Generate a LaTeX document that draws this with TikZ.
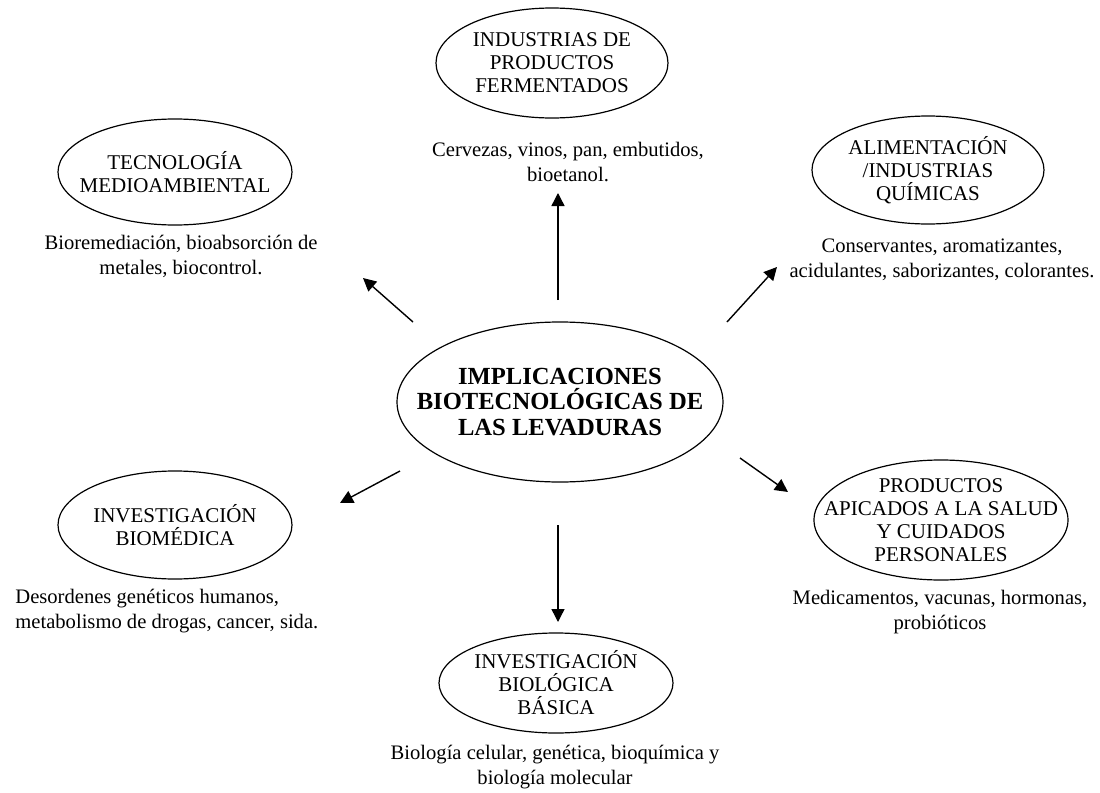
\documentclass[tikz,border=0pt]{standalone}
\usepackage{fontspec}
\setmainfont{Liberation Serif}
\usetikzlibrary{positioning,arrows.meta,shapes.geometric}

\begin{document}
\begin{tikzpicture}[
    x=0.5pt, y=-0.5pt,
    area/.style    = {draw, ellipse, line width=0.6pt, inner xsep=-22pt, inner ysep=-6pt,
                      align=center, font=\fontsize{10.5}{11.5}\selectfont},
    core/.style    = {draw, ellipse, line width=0.6pt, inner xsep=-25pt, inner ysep=-6pt,
                      align=center, minimum width=163pt, minimum height=80pt,
                      font=\fontsize{12.3}{12.8}\selectfont\bfseries},
    note/.style    = {align=center, inner sep=0pt, font=\fontsize{10.3}{12.5}\selectfont},
    arr/.style     = {-{Triangle[length=6.5pt,width=6.5pt]}, line width=0.7pt},
]
\useasboundingbox (0,0) rectangle (1100,793);

% --- central idea ---
\node[core] (yeast) at (560,402)
    {IMPLICACIONES\\BIOTECNOLÓGICAS DE\\LAS LEVADURAS};

% --- application areas ---
\node[area, minimum width=116pt, minimum height=55pt] (ferm) at (552,63)
    {INDUSTRIAS DE\\PRODUCTOS\\FERMENTADOS};
\node[area, minimum width=116pt, minimum height=54pt] (food) at (928,170)
    {ALIMENTACIÓN\\/INDUSTRIAS\\QUÍMICAS};
\node[area, minimum width=117pt, minimum height=53pt] (env) at (175,172)
    {TECNOLOGÍA\\MEDIOAMBIENTAL};
\node[area, minimum width=117pt, minimum height=54pt] (biomed) at (175,525)
    {INVESTIGACIÓN\\BIOMÉDICA};
\node[area, minimum width=117pt, minimum height=50pt] (basic) at (556,683)
    {INVESTIGACIÓN\\BIOLÓGICA\\BÁSICA};
\node[area, minimum width=127pt, minimum height=60pt] (health) at (941,520)
    {PRODUCTOS\\APICADOS A LA SALUD\\Y CUIDADOS\\PERSONALES};

% --- examples under each area ---
\node[note] (fermN) at (568,162) {Cervezas, vinos, pan, embutidos,\\bioetanol.};
\node[note] (foodN) at (942,260) {Conservantes, aromatizantes,\\acidulantes, saborizantes, colorantes.};
\node[note] (envN) at (181,256) {Bioremediación, bioabsorción de\\metales, biocontrol.};
\node[note, align=left, anchor=west] (biomedN) at (15,611)
    {Desordenes genéticos humanos,\\metabolismo de drogas, cancer, sida.};
\node[note] (basicN) at (555,767) {Biología celular, genética, bioquímica y\\biología molecular};
\node[note] (healthN) at (940,612) {Medicamentos, vacunas, hormonas,\\probióticos};

% --- arrow ends ---
\coordinate (upA) at (558,300);   \coordinate (upB) at (558,193);
\coordinate (neA) at (727,322);   \coordinate (neB) at (777,267);
\coordinate (nwA) at (413,322);   \coordinate (nwB) at (363,278);
\coordinate (swA) at (400,471);   \coordinate (swB) at (340,503);
\coordinate (dnA) at (558,525);   \coordinate (dnB) at (558,622);
\coordinate (seA) at (740,458);   \coordinate (seB) at (788,492);

% --- arrows ---
\draw[arr] (upA) -- (upB);
\draw[arr] (neA) -- (neB);
\draw[arr] (nwA) -- (nwB);
\draw[arr] (swA) -- (swB);
\draw[arr] (dnA) -- (dnB);
\draw[arr] (seA) -- (seB);

\end{tikzpicture}
\end{document}
